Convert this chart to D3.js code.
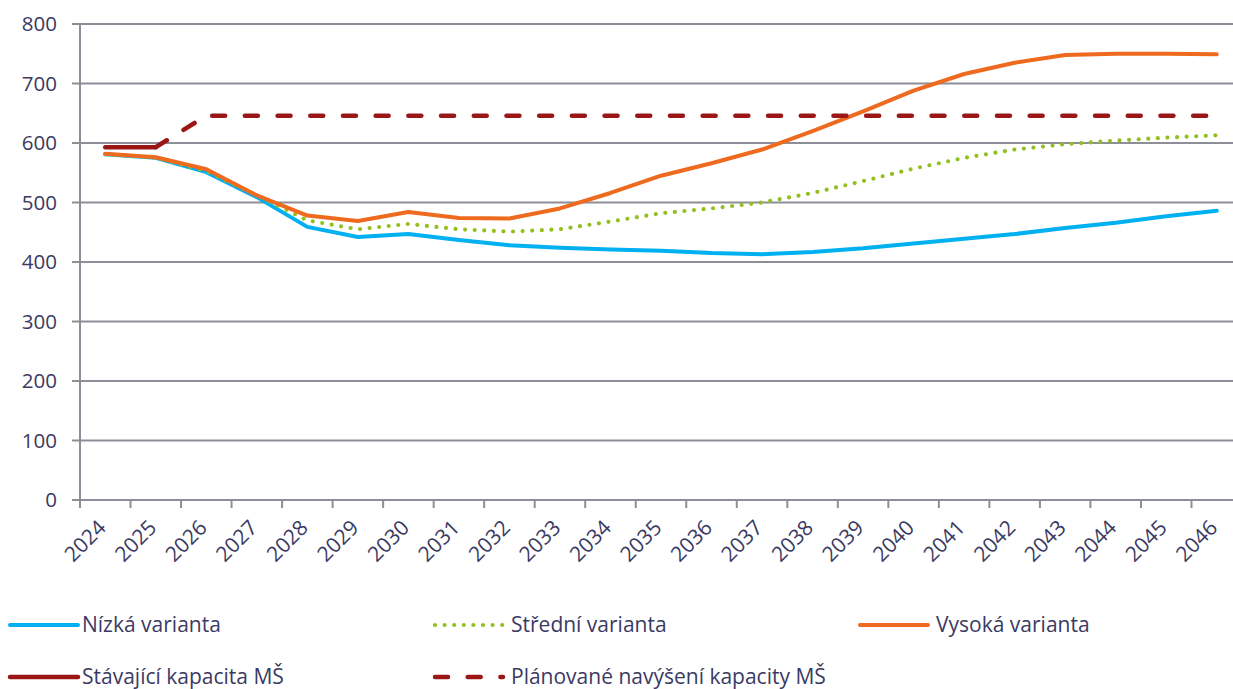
<!DOCTYPE html>
<html><head><meta charset="utf-8">
<script src="https://cdn.jsdelivr.net/npm/d3@7"></script>
<style>
body{margin:0;background:#fff;}
text{font-family:"Open Sans",sans-serif;fill:#3a3a62;}
</style></head>
<body><svg id="c" width="1233" height="689"></svg>
<script>
const years = ["2024","2025","2026","2027","2028","2029","2030","2031","2032","2033","2034","2035","2036","2037","2038","2039","2040","2041","2042","2043","2044","2045","2046"];
const nizka   = [581,575,551,509,459,442,447,437,428,424,421,419,415,413,417,423,431,439,447,457,466,477,486];
const stredni = [581,575,553,512,470,455,464,455,451,455,468,482,490,500,516,536,557,575,589,598,604,609,613];
const vysoka  = [582,576,556,512,478,469,484,474,473,490,516,545,566,589,620,653,688,716,735,748,750,750,749];
const stavajici = [593,593,null,null,null,null,null,null,null,null,null,null,null,null,null,null,null,null,null,null,null,null,null];
const planovane = [null,593,646,646,646,646,646,646,646,646,646,646,646,646,646,646,646,646,646,646,646,646,646];
const yTicks = [0,100,200,300,400,500,600,700,800];
const seriesNames = ["Nízká varianta","Střední varianta","Vysoká varianta","Stávající kapacita MŠ","Plánované navýšení kapacity MŠ"];

const svg = d3.select("#c");
const x = d3.scaleBand().domain(years).range([80,1242]);
const y = d3.scaleLinear().domain([0,800]).range([500,24]);
const cx = d => x(d) + x.bandwidth()/2;
const grid = "#8e8e98";

svg.append("g").selectAll("line").data(yTicks).join("line")
  .attr("x1",72).attr("x2",1233).attr("y1",d=>y(d)).attr("y2",d=>y(d))
  .attr("stroke",grid).attr("stroke-width",2);
svg.append("g").selectAll("text").data(yTicks).join("text")
  .attr("x",57).attr("y",d=>y(d)).attr("dy","0.35em").attr("text-anchor","end")
  .attr("font-size",20.5).text(d=>d);
svg.append("line").attr("x1",80).attr("x2",80).attr("y1",24).attr("y2",508)
  .attr("stroke",grid).attr("stroke-width",2);
svg.append("g").selectAll("line").data(years).join("line")
  .attr("x1",d=>x(d)).attr("x2",d=>x(d)).attr("y1",500).attr("y2",508)
  .attr("stroke",grid).attr("stroke-width",2);
svg.append("g").selectAll("text").data(years).join("text")
  .attr("transform",d=>`translate(${cx(d)+2},529) rotate(-45)`)
  .attr("text-anchor","end").attr("font-size",21).text(d=>d);

const line = d3.line().defined(d=>d.v!=null).x(d=>cx(d.k)).y(d=>y(d.v));
const mk = arr => years.map((k,i)=>({k,v:arr[i]}));

const styles = [
  {data:nizka, color:"#00b0f0", w:4, dash:null, cap:"round"},
  {data:stredni, color:"#92c01f", w:4.2, dash:"0,9.6", cap:"round"},
  {data:vysoka, color:"#ee6a1f", w:4, dash:null, cap:"round"},
  {data:stavajici, color:"#9b1616", w:4.5, dash:null, cap:"round"},
  {data:planovane, color:"#9b1616", w:4.5, dash:"13,19.7", cap:"round"}
];
styles.forEach(s=>{
  svg.append("path").datum(mk(s.data)).attr("d",line)
    .attr("fill","none").attr("stroke",s.color).attr("stroke-width",s.w)
    .attr("stroke-linecap",s.cap).attr("stroke-linejoin","round")
    .attr("stroke-dasharray",s.dash);
});

const legPos = [[10,625],[435,625],[860,625],[10,677],[435,677]];
styles.forEach((s,i)=>{
  const [lx,ly] = legPos[i];
  svg.append("line").attr("x1",lx).attr("x2",lx+68).attr("y1",ly).attr("y2",ly)
    .attr("stroke",s.color).attr("stroke-width",s.w)
    .attr("stroke-linecap",s.cap).attr("stroke-dasharray",s.dash);
  svg.append("text").attr("x",lx+(i%3===0?72:76)).attr("y",ly).attr("dy","0.35em")
    .attr("font-size",21).text(seriesNames[i]);
});
</script></body></html>
